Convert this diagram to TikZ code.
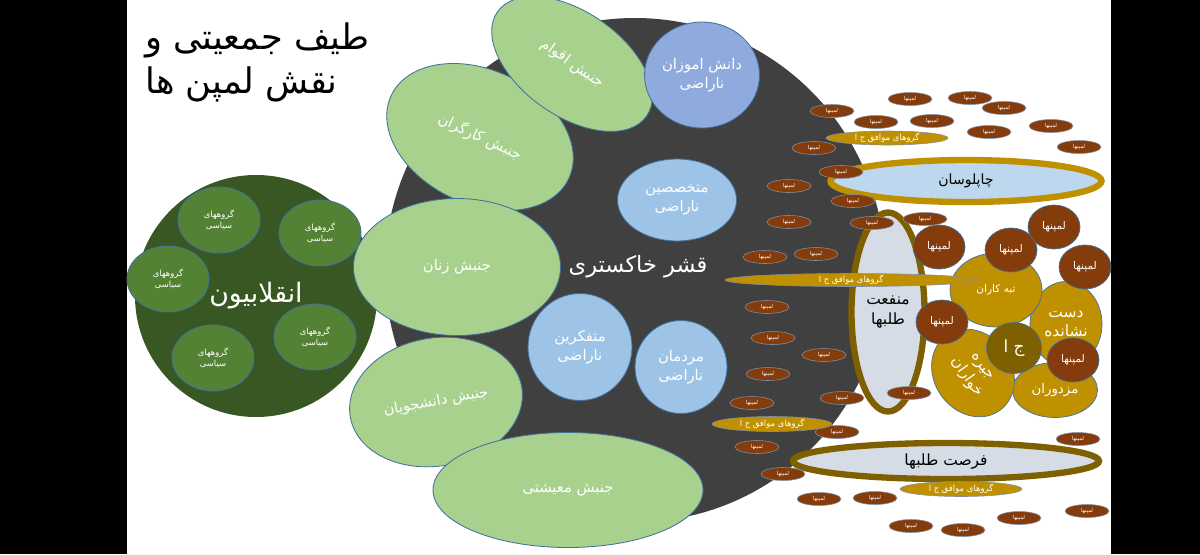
\documentclass[tikz,border=0pt]{standalone}
\usepackage{fontspec}
\newfontfamily\arabicfont[Script=Arabic]{DejaVu Sans}
\TeXXeTstate=1
\usetikzlibrary{shapes.geometric}
\definecolor{greendark}{HTML}{385723}
\definecolor{greenmid}{HTML}{548235}
\definecolor{greenlight}{HTML}{A9D18E}
\definecolor{ashgray}{HTML}{404040}
\definecolor{bluemid}{HTML}{8FAADC}
\definecolor{bluelight}{HTML}{9DC3E6}
\definecolor{blueedge}{HTML}{41719C}
\definecolor{slate}{HTML}{7F8FA6}
\definecolor{gold}{HTML}{BF9000}
\definecolor{golddark}{HTML}{7F6000}
\definecolor{rust}{HTML}{843C0C}
\definecolor{paleblue}{HTML}{BDD7EE}
\definecolor{palegray}{HTML}{D6DCE5}
\newcommand{\fa}[1]{\beginR #1\endR}

\begin{document}
\begin{tikzpicture}[x=0.025cm,y=-0.025cm,
  sz/.style 2 args={minimum width=#1*0.025cm,minimum height=#2*0.025cm},
  fs/.style={font={\arabicfont\fontsize{#1}{#1}\selectfont\baselineskip 1.25em\relax}},
  blob/.style={ellipse,inner sep=0pt,align=center,text=white},
  title/.style={anchor=west,inner sep=0pt,fs=25},
  rebel/.style={blob,fill=greendark,sz={242}{242},fs=19},
  party/.style={blob,fill=greenmid,draw=blueedge,line width=0.6pt,sz={82}{66},fs=6},
  move/.style={blob,fill=greenlight,draw=blueedge,line width=0.6pt,fs=10.5},
  crowd/.style={blob,fill=bluelight,draw=blueedge,line width=0.6pt,fs=10.5},
  ring/.style={blob,text=black,fill=palegray,draw=golddark,line width=4.5pt,fs=11},
  clan/.style={blob,fill=gold,draw=blueedge,line width=0.5pt},
  lumpen/.style={blob,fill=rust,draw=blueedge,line width=0.5pt,sz={52}{44},fs=7.5},
  lump/.style={blob,fill=rust,draw=slate,line width=0.4pt,sz={44}{13},fs=3.8,text height=2pt,text depth=0pt},
  camp/.style={blob,fill=gold,draw=slate,line width=0.4pt,fs=6,text height=3pt,text depth=0pt}
]
\useasboundingbox (0,0) rectangle (1200,554);
\fill[black] (0,0) rectangle (1200,554);
\fill[white] (127,0) rectangle (1111,554);

% title
\node[title] (title1) at (145,40) {\fa{طیف جمعیتی و}};
\node[title] (title2) at (145,84) {\fa{نقش لمپن ها}};

% left: revolutionaries
\node[rebel] (rebels) at (256,296) {\fa{انقلابیون}};
\node[party] (pg1) at (219,220) {\fa{گروههای}\\\fa{سیاسی}};
\node[party] (pg2) at (320,233) {\fa{گروههای}\\\fa{سیاسی}};
\node[party] (pg3) at (168,279) {\fa{گروههای}\\\fa{سیاسی}};
\node[party] (pg4) at (315,337) {\fa{گروههای}\\\fa{سیاسی}};
\node[party] (pg5) at (213,358) {\fa{گروههای}\\\fa{سیاسی}};

% grey layer
\node[blob,fill=ashgray,sz={500}{504}] (ash) at (635,270) {};
\node[move,sz={196}{134},rotate=-25] (workers) at (480,137) {\fa{جنبش کارگران}};
\node[move,sz={182}{104},rotate=-35] (ethnic) at (572,64) {\fa{جنبش اقوام}};
\node[move,sz={207}{137}] (women) at (457,267) {\fa{جنبش زنان}};
\node[move,sz={174}{128},rotate=10] (students) at (436,402) {\fa{جنبش دانشجویان}};
\node[move,sz={270}{115}] (living) at (568,490) {\fa{جنبش معیشتی}};
\node[crowd,fill=bluemid,sz={115}{106}] (pupils) at (702,75) {\fa{دانش اموزان}\\\fa{ناراضی}};
\node[crowd,sz={119}{82}] (experts) at (677,200) {\fa{متخصصین}\\\fa{ناراضی}};
\node[crowd,sz={104}{107}] (thinkers) at (580,347) {\fa{متفکرین}\\\fa{ناراضی}};
\node[crowd,sz={92}{93}] (people) at (681,367) {\fa{مردمان}\\\fa{ناراضی}};
\node[fs=16,text=white] (ashlabel) at (638,267) {\fa{قشر خاکستری}};

% right: lumpen circles
\node[ring,draw=gold,fill=paleblue,sz={271}{42},fs=10] (flatter) at (966,181) {\fa{چاپلوسان}};
\node[ring,sz={73}{199}] (profit) at (888,312) {\fa{منفعت}\\\fa{طلبها}};
\node[ring,sz={306}{36}] (chance) at (946,461) {\fa{فرصت طلبها}};
\node[clan,sz={72}{85},fs=11] (puppets) at (1066,324) {\fa{دست}\\\fa{نشانده}};
\node[clan,sz={85}{55},fs=9.5] (hirelings) at (1055,390) {\fa{مزدوران}};
\node[clan,sz={92}{74},fs=7.5] (crooks) at (996,290) {\fa{تبه کاران}};
\node[clan,sz={92}{78},rotate=-55,fs=11] (rations) at (973,373) {\fa{جیره}\\\fa{خواران}};
\node[clan,fill=golddark,sz={55}{51},fs=12] (gov) at (1014,348) {\fa{ج ا}};
\node[lumpen] (lc1) at (939,247) {\fa{لمپنها}};
\node[lumpen] (lc2) at (1011,250) {\fa{لمپنها}};
\node[lumpen] (lc3) at (1054,227) {\fa{لمپنها}};
\node[lumpen] (lc4) at (1085,267) {\fa{لمپنها}};
\node[lumpen] (lc5) at (942,322) {\fa{لمپنها}};
\node[lumpen] (lc6) at (1073,360) {\fa{لمپنها}};

% small lumpen
\node[lump] (l1) at (910,99) {\fa{لمپنها}}; \node[lump] (l2) at (970,98) {\fa{لمپنها}}; \node[lump] (l3) at (1004,108) {\fa{لمپنها}}; \node[lump] (l4) at (832,111) {\fa{لمپنها}};
\node[lump] (l5) at (876,122) {\fa{لمپنها}}; \node[lump] (l6) at (932,121) {\fa{لمپنها}}; \node[lump] (l7) at (989,132) {\fa{لمپنها}}; \node[lump] (l8) at (1051,126) {\fa{لمپنها}};
\node[lump] (l9) at (1079,147) {\fa{لمپنها}}; \node[lump] (l10) at (814,148) {\fa{لمپنها}}; \node[lump] (l11) at (841,172) {\fa{لمپنها}}; \node[lump] (l12) at (789,186) {\fa{لمپنها}};
\node[lump] (l13) at (853,201) {\fa{لمپنها}}; \node[lump] (l14) at (789,222) {\fa{لمپنها}}; \node[lump] (l15) at (872,223) {\fa{لمپنها}}; \node[lump] (l16) at (925,219) {\fa{لمپنها}};
\node[lump] (l17) at (765,257) {\fa{لمپنها}}; \node[lump] (l18) at (816,254) {\fa{لمپنها}}; \node[lump] (l19) at (767,307) {\fa{لمپنها}}; \node[lump] (l20) at (773,338) {\fa{لمپنها}};
\node[lump] (l21) at (824,355) {\fa{لمپنها}}; \node[lump] (l22) at (768,374) {\fa{لمپنها}}; \node[lump] (l23) at (752,403) {\fa{لمپنها}}; \node[lump] (l24) at (842,398) {\fa{لمپنها}};
\node[lump] (l25) at (909,393) {\fa{لمپنها}}; \node[lump] (l26) at (837,432) {\fa{لمپنها}}; \node[lump] (l27) at (757,447) {\fa{لمپنها}}; \node[lump] (l28) at (783,474) {\fa{لمپنها}};
\node[lump] (l29) at (1078,439) {\fa{لمپنها}}; \node[lump] (l30) at (819,499) {\fa{لمپنها}}; \node[lump] (l31) at (875,498) {\fa{لمپنها}}; \node[lump] (l32) at (1019,518) {\fa{لمپنها}};
\node[lump] (l33) at (1087,511) {\fa{لمپنها}}; \node[lump] (l34) at (911,526) {\fa{لمپنها}}; \node[lump] (l35) at (963,530) {\fa{لمپنها}};

% pro-regime groups
\node[camp,sz={122}{14}] (allies1) at (887,138) {\fa{گروهای موافق ج ا}};
\node[camp,sz={252}{13}] (allies2) at (851,280) {\fa{گروهای موافق ج ا}};
\node[camp,sz={120}{15}] (allies3) at (772,424) {\fa{گروهای موافق ج ا}};
\node[camp,sz={122}{15}] (allies4) at (961,489) {\fa{گروهای موافق ج ا}};
\end{tikzpicture}
\end{document}
